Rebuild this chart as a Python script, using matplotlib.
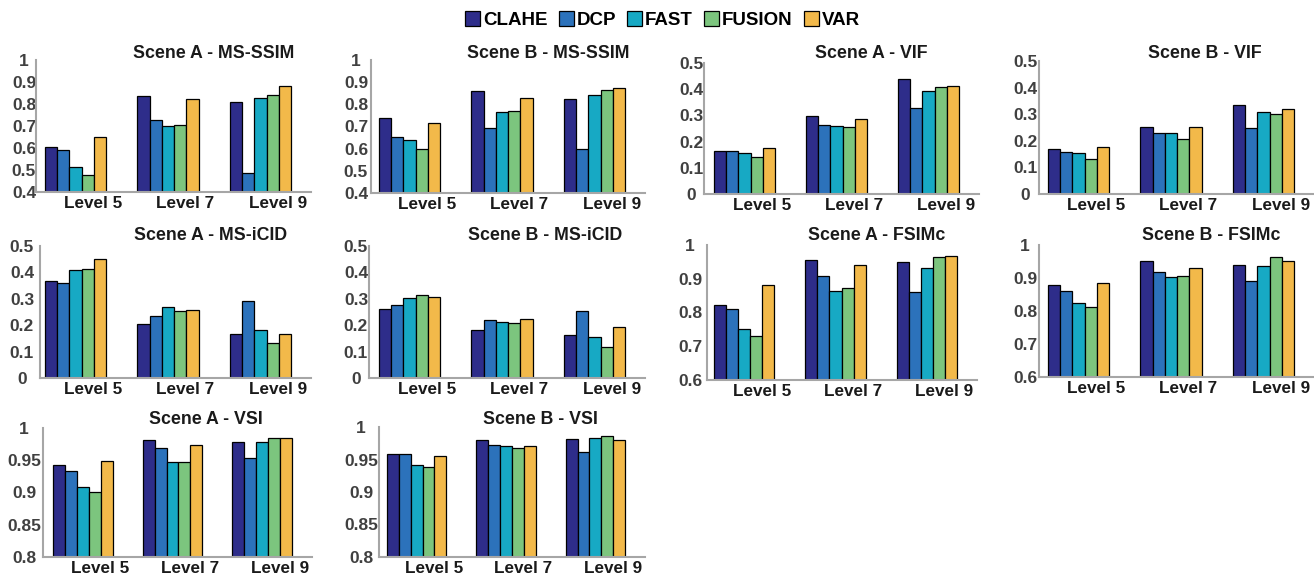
import matplotlib
matplotlib.use("Agg")
import matplotlib.pyplot as plt
from matplotlib.patches import Patch
import numpy as np

plt.rcParams['font.family'] = ['Liberation Sans', 'DejaVu Sans']

# ---------------- data ----------------
methods = ["CLAHE", "DCP", "FAST", "FUSION", "VAR"]
levels = ["Level 5", "Level 7", "Level 9"]
colors = ["#2e2d8a", "#2c72bb", "#17a9c4", "#7cc57e", "#f2b94a"]

# rows = methods (CLAHE, DCP, FAST, FUSION, VAR); cols = Level 5, 7, 9
scene_a_msssim = [[0.604, 0.838, 0.811],
                  [0.592, 0.726, 0.488],
                  [0.512, 0.699, 0.828],
                  [0.476, 0.704, 0.843],
                  [0.652, 0.822, 0.880]]
scene_b_msssim = [[0.738, 0.860, 0.822],
                  [0.654, 0.692, 0.600],
                  [0.638, 0.764, 0.843],
                  [0.599, 0.768, 0.866],
                  [0.716, 0.828, 0.873]]
scene_a_vif = [[0.165, 0.297, 0.440],
               [0.165, 0.263, 0.327],
               [0.156, 0.260, 0.395],
               [0.142, 0.254, 0.408],
               [0.174, 0.288, 0.413]]
scene_b_vif = [[0.168, 0.251, 0.335],
               [0.159, 0.228, 0.247],
               [0.154, 0.228, 0.309],
               [0.133, 0.207, 0.301],
               [0.176, 0.251, 0.318]]
scene_a_msicid = [[0.368, 0.204, 0.165],
                  [0.359, 0.235, 0.292],
                  [0.410, 0.270, 0.181],
                  [0.414, 0.253, 0.133],
                  [0.449, 0.258, 0.168]]
scene_b_msicid = [[0.263, 0.182, 0.161],
                  [0.275, 0.218, 0.253],
                  [0.303, 0.213, 0.156],
                  [0.316, 0.208, 0.119],
                  [0.306, 0.222, 0.193]]
scene_a_fsimc = [[0.821, 0.957, 0.950],
                 [0.811, 0.907, 0.862],
                 [0.750, 0.865, 0.931],
                 [0.730, 0.872, 0.963],
                 [0.881, 0.941, 0.967]]
scene_b_fsimc = [[0.880, 0.950, 0.938],
                 [0.861, 0.917, 0.892],
                 [0.824, 0.902, 0.935],
                 [0.811, 0.907, 0.964],
                 [0.885, 0.931, 0.953]]
scene_a_vsi = [[0.943, 0.982, 0.979],
               [0.933, 0.969, 0.954],
               [0.909, 0.948, 0.979],
               [0.900, 0.947, 0.985],
               [0.949, 0.973, 0.985]]
scene_b_vsi = [[0.958, 0.980, 0.982],
               [0.958, 0.973, 0.962],
               [0.942, 0.970, 0.983],
               [0.939, 0.968, 0.986],
               [0.955, 0.971, 0.980]]

titles = ["Scene A - MS-SSIM", "Scene B - MS-SSIM", "Scene A - VIF", "Scene B - VIF",
          "Scene A - MS-iCID", "Scene B - MS-iCID", "Scene A - FSIMc", "Scene B - FSIMc",
          "Scene A - VSI", "Scene B - VSI"]
panel_data = [scene_a_msssim, scene_b_msssim, scene_a_vif, scene_b_vif,
              scene_a_msicid, scene_b_msicid, scene_a_fsimc, scene_b_fsimc,
              scene_a_vsi, scene_b_vsi]

ssim_ticks = [0.4, 0.5, 0.6, 0.7, 0.8, 0.9, 1.0]
ssim_labels = ["0.4", "0.5", "0.6", "0.7", "0.8", "0.9", "1"]
low_ticks = [0, 0.1, 0.2, 0.3, 0.4, 0.5]
low_labels = ["0", "0.1", "0.2", "0.3", "0.4", "0.5"]
fsim_ticks = [0.6, 0.7, 0.8, 0.9, 1.0]
fsim_labels = ["0.6", "0.7", "0.8", "0.9", "1"]
vsi_ticks = [0.8, 0.85, 0.9, 0.95, 1.0]
vsi_labels = ["0.8", "0.85", "0.9", "0.95", "1"]
panel_ticks = [(ssim_ticks, ssim_labels), (ssim_ticks, ssim_labels),
               (low_ticks, low_labels), (low_ticks, low_labels),
               (low_ticks, low_labels), (low_ticks, low_labels),
               (fsim_ticks, fsim_labels), (fsim_ticks, fsim_labels),
               (vsi_ticks, vsi_labels), (vsi_ticks, vsi_labels)]

# ---------------- layout (pixels) ----------------
W, H = 1314, 575
# axis_x, first bar left, last bar right, top px, bottom px, ytick pad px, title cx, title cy
layout = [
    (36, 45, 291, 60, 192, 12, 214, 53),
    (371, 379, 625, 60, 193, 15, 548, 53),
    (704, 714, 959, 63, 194, 13, 871, 53),
    (1039, 1048, 1294, 61, 194, 14, 1205, 53),
    (40, 45, 291, 246, 378, 18, 211, 236),
    (369, 379, 625, 246, 378, 13, 545, 236),
    (707, 714, 957, 245, 380, 17, 877, 236),
    (1039, 1048, 1294, 245, 377, 14, 1211, 236),
    (43, 53, 292, 428, 557, 19, 206, 420),
    (379, 387, 625, 427, 557, 18, 540, 420),
]

fig = plt.figure(figsize=(W / 100, H / 100), dpi=100)

nm = len(methods)
bw = 0.1326
x = np.arange(len(levels))
span = 2 + nm * bw
axis_gray = "#a6a6a6"
tick_color = "#404040"

for data, title, (ticks, tlabels), lay in zip(panel_data, titles, panel_ticks, layout):
    L, b0, b1, top, bot, ypad, tcx, tcy = lay
    s = (b1 - b0) / span
    xl = -nm * bw / 2 - (b0 - L) / s
    right_px = b1 + 20
    xr = 2 + nm * bw / 2 + 20 / s
    ax = fig.add_axes([L / W, 1 - bot / H, (right_px - L) / W, (bot - top) / H])
    for i, (m, c) in enumerate(zip(methods, colors)):
        ax.bar(x + (i - (nm - 1) / 2) * bw, data[i], width=bw, color=c,
               edgecolor="black", linewidth=0.9, zorder=2)
    ax.set_xlim(xl, xr)
    ax.set_ylim(ticks[0], ticks[-1])
    ax.set_yticks(ticks)
    ax.set_yticklabels(tlabels, fontsize=12.5, fontweight="bold", color=tick_color)
    for lbl in ax.get_yticklabels():
        lbl.set_horizontalalignment("center")
    ax.tick_params(axis="y", length=0, pad=ypad * 0.72)
    off = 17.5 / s
    ax.set_xticks(x + off)
    ax.set_xticklabels(levels, fontsize=12.3, fontweight="bold", color="#1a1a1a")
    ax.tick_params(axis="x", length=0, pad=3.2)
    for sp in ["top", "right"]:
        ax.spines[sp].set_visible(False)
    for sp in ["left", "bottom"]:
        ax.spines[sp].set_color(axis_gray)
        ax.spines[sp].set_linewidth(1.5)
    ax.patch.set_visible(False)
    fig.text(tcx / W, 1 - tcy / H, title, ha="center", va="center",
             fontsize=12.8, fontweight="bold", color="#1a1a1a")

handles = [Patch(facecolor=c, edgecolor="black", linewidth=0.9) for c in colors]
fig.legend(handles, methods, loc="center", bbox_to_anchor=(662.5 / W, 1 - 20 / H),
           ncol=5, frameon=False, prop={"weight": "bold", "size": 13.5},
           handlelength=0.8, handleheight=0.8, handletextpad=0.15, columnspacing=0.6,
           borderaxespad=0, borderpad=0)

fig.savefig("out.png", dpi=100)
